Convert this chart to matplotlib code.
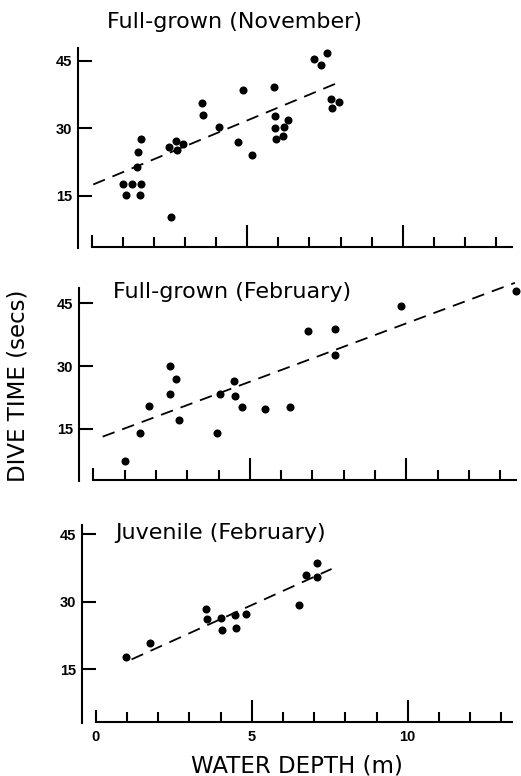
import numpy as np
import matplotlib
matplotlib.use("Agg")
import matplotlib.pyplot as plt

# ---------------- data ----------------
nov_depth = [1.0, 1.09, 1.29, 1.47, 1.50, 1.58, 1.60, 1.55, 2.54, 2.47, 2.70, 2.73, 2.94,
             3.54, 3.58, 4.08, 4.88, 4.71, 5.15, 5.87, 5.90, 5.90, 5.92, 6.18, 6.16, 6.32,
             7.15, 7.38, 7.58, 7.68, 7.72, 7.95]
nov_time = [17.5, 15.2, 17.5, 21.3, 24.7, 27.7, 17.6, 15.2, 10.3, 25.9, 27.2, 25.1, 26.5,
            35.7, 33.0, 30.2, 38.5, 27.0, 24.1, 39.1, 32.8, 30.1, 27.6, 30.2, 28.3, 31.9,
            45.4, 44.0, 46.7, 36.5, 34.5, 35.9]
nov_fit_x = [0.05, 8.0]
nov_fit_y = [17.5, 40.4]

feb_depth = [1.02, 1.50, 1.79, 2.45, 2.46, 2.63, 2.73, 3.95, 4.06, 4.49, 4.54, 4.76,
             5.49, 6.29, 6.85, 7.73, 7.73, 9.83, 13.51]
feb_time = [7.3, 14.0, 20.4, 30.1, 23.2, 26.8, 17.2, 14.0, 23.2, 26.3, 22.8, 20.2,
            19.7, 20.2, 38.4, 38.8, 32.6, 44.4, 47.9]
feb_fit_x = [0.30, 13.47]
feb_fit_y = [13.1, 49.9]

juv_depth = [0.97, 1.74, 3.53, 3.58, 4.01, 4.04, 4.46, 4.50, 4.82, 6.52, 6.74, 7.10, 7.10]
juv_time = [17.7, 20.8, 28.5, 26.2, 26.3, 23.7, 27.0, 24.1, 27.3, 29.4, 36.0, 38.6, 35.5]
juv_fit_x = [1.15, 7.56]
juv_fit_y = [17.2, 37.3]

titles = ["Full-grown (November)", "Full-grown (February)", "Juvenile (February)"]
y_ticks = [15, 30, 45]
x_major = [0, 5, 10]
x_minor = list(range(0, 14))
x_label = "WATER DEPTH (m)"
y_label = "DIVE TIME (secs)"

# ---------------- layout ----------------
W, H = 521, 776
fig = plt.figure(figsize=(W / 100, H / 100), dpi=100)

# per-panel geometry in pixels
panels = [
    (77.7, 91.7, 31.1, 61.0, 4.49, 247.0, 47.9, 13.5),
    (79.0, 93.3, 31.3, 303.3, 4.18, 480.0, 48.6, 13.5),
    (81.7, 95.7, 31.2, 534.3, 4.50, 721.7, 47.1, 13.35),
]
datasets = [
    (nov_depth, nov_time, nov_fit_x, nov_fit_y),
    (feb_depth, feb_time, feb_fit_x, feb_fit_y),
    (juv_depth, juv_time, juv_fit_x, juv_fit_y),
]

LW = 1.5
for i, ((yax, x0, sx, y45, sy, xay, ytop, xend), (dx, dy, fx, fy)) in enumerate(zip(panels, datasets)):
    xmin = (yax - x0) / sx
    xmax = (W - x0) / sx
    ymin = 45 - (xay - y45) / sy
    top_px = 270 if i == 1 else (y45 - (ytop - 45) * sy - 2)
    ymax = 45 + (y45 - top_px) / sy
    ax = fig.add_axes([yax / W, 1 - xay / H, (W - yax) / W, (xay - top_px) / H])
    ax.set_xlim(xmin, xmax)
    ax.set_ylim(ymin, ymax)
    ax.patch.set_alpha(0)

    ax.plot(dx, dy, 'o', color='black', markersize=5.8, markeredgewidth=0, clip_on=False, zorder=3)
    ax.plot(fx, fy, color='black', lw=1.3, dashes=(7, 4.5), clip_on=False, zorder=2)

    for s in ['top', 'right']:
        ax.spines[s].set_visible(False)
    ax.spines['left'].set_linewidth(LW)
    ax.spines['bottom'].set_linewidth(LW)
    ax.spines['left'].set_bounds(ymin - 0.3, ytop)
    ax.spines['bottom'].set_bounds(0, xend)

    ax.set_yticks(y_ticks)
    ax.set_yticklabels([str(v) for v in y_ticks], fontsize=10.5, fontweight='bold',
                       family='Liberation Sans')
    ax.tick_params(axis='y', direction='in', length=10, width=LW, pad=4)

    ax.set_xticks(x_major)
    ax.set_xticks([v for v in x_minor if v not in x_major], minor=True)
    ax.tick_params(axis='x', which='major', direction='in', length=16, width=LW, pad=6)
    ax.tick_params(axis='x', which='minor', direction='in', length=7.5, width=LW)
    ax.xaxis.get_major_ticks()[0].tick1line.set_markersize(9)
    if i == 2:
        ax.set_xticklabels([str(v) for v in x_major], fontsize=10.5, fontweight='bold',
                           family='Liberation Sans')
    else:
        ax.set_xticklabels([])

# titles
title_pos = [(107, 22), (113, 292), (115, 533)]
for t, (px, py) in zip(titles, title_pos):
    fig.text(px / W, 1 - py / H, t, fontsize=16, family='DejaVu Sans',
             ha='left', va='center')

fig.text(297 / W, 1 - 766 / H, x_label, fontsize=16.5, family='DejaVu Sans',
         ha='center', va='center')
fig.text(18 / W, 1 - 386 / H, y_label, fontsize=16.5, family='DejaVu Sans',
         ha='center', va='center', rotation=90)

fig.savefig('out.png', dpi=100)
